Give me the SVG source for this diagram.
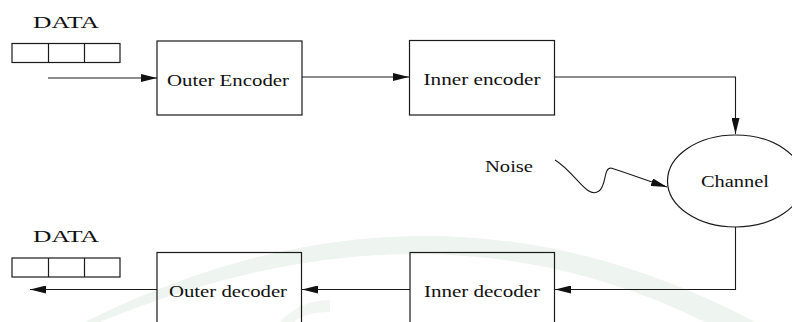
<svg xmlns="http://www.w3.org/2000/svg" width="792" height="322" viewBox="0 0 792 322">
  <style>
    .box { fill: none; stroke: #1a1a1a; stroke-width: 1.2; }
    .wire { fill: none; stroke: #1a1a1a; stroke-width: 1.1; }
    text { font-family: 'Liberation Serif', 'Times New Roman', Times, serif; font-size: 16px; fill: #111; }
  </style>
  <defs>
    <marker id="head" viewBox="0 0 16 8" markerWidth="16" markerHeight="8" refX="16" refY="4" orient="auto" markerUnits="userSpaceOnUse">
      <path d="M0,0 L16,4 L0,8 Z" fill="#111"/>
    </marker>
  </defs>

  <rect width="792" height="322" fill="#ffffff"/>

  <!-- faint background crescent -->
  <path d="M85,322 Q430,150 755,322 L705,322 Q430,186 100,322 Z" fill="#eef4ef"/>
  <path d="M280,322 Q300,300 330,300 L330,312 Q305,312 294,322 Z" fill="#f2f6f2"/>

  <!-- connectors -->
  <g id="connectors">
    <line class="wire" x1="48" y1="78" x2="157" y2="78" marker-end="url(#head)"/>
    <line class="wire" x1="302" y1="77" x2="409" y2="77" marker-end="url(#head)"/>
    <polyline class="wire" points="554,77 735.5,77 735.5,134" marker-end="url(#head)"/>
    <path class="wire" d="M555,160 C575,172 587,200 599,191 C607,185 603,168 611,168 C630,174 648,181 667,187" marker-end="url(#head)"/>
    <polyline class="wire" points="735.5,227 735.5,289.5 555,289.5" marker-end="url(#head)"/>
    <line class="wire" x1="410" y1="289.5" x2="302" y2="289.5" marker-end="url(#head)"/>
    <line class="wire" x1="157" y1="289.5" x2="30" y2="289.5" marker-end="url(#head)"/>
  </g>

  <!-- input data register -->
  <g id="data-in">
    <text x="33" y="28" textLength="66" lengthAdjust="spacingAndGlyphs" font-family="Liberation Serif, serif">DATA</text>
    <rect class="box" x="12" y="43.5" width="108" height="19"/>
    <line class="box" x1="48.5" y1="43.5" x2="48.5" y2="62.5"/>
    <line class="box" x1="84.5" y1="43.5" x2="84.5" y2="62.5"/>
  </g>

  <g id="outer-encoder">
    <rect class="box" x="157" y="41" width="145" height="74"/>
    <text x="167" y="86" textLength="122" lengthAdjust="spacingAndGlyphs">Outer Encoder</text>
  </g>

  <g id="inner-encoder">
    <rect class="box" x="409.5" y="40.5" width="145" height="74.5"/>
    <text x="423.5" y="85" textLength="117" lengthAdjust="spacingAndGlyphs">Inner encoder</text>
  </g>

  <g id="noise">
    <text x="485" y="172" textLength="48" lengthAdjust="spacingAndGlyphs">Noise</text>
  </g>

  <g id="channel">
    <ellipse class="box" cx="735.5" cy="181" rx="68" ry="46"/>
    <text x="701" y="187" textLength="68" lengthAdjust="spacingAndGlyphs">Channel</text>
  </g>

  <g id="inner-decoder">
    <rect class="box" x="410" y="252.5" width="144.5" height="90"/>
    <text x="424" y="297" textLength="116" lengthAdjust="spacingAndGlyphs">Inner decoder</text>
  </g>

  <g id="outer-decoder">
    <rect class="box" x="157" y="252.5" width="144.5" height="90"/>
    <text x="169" y="297" textLength="118" lengthAdjust="spacingAndGlyphs">Outer decoder</text>
  </g>

  <!-- output data register -->
  <g id="data-out">
    <text x="33" y="242" textLength="66" lengthAdjust="spacingAndGlyphs">DATA</text>
    <rect class="box" x="12" y="258" width="108" height="19"/>
    <line class="box" x1="48.5" y1="258" x2="48.5" y2="277"/>
    <line class="box" x1="84.5" y1="258" x2="84.5" y2="277"/>
  </g>
</svg>
